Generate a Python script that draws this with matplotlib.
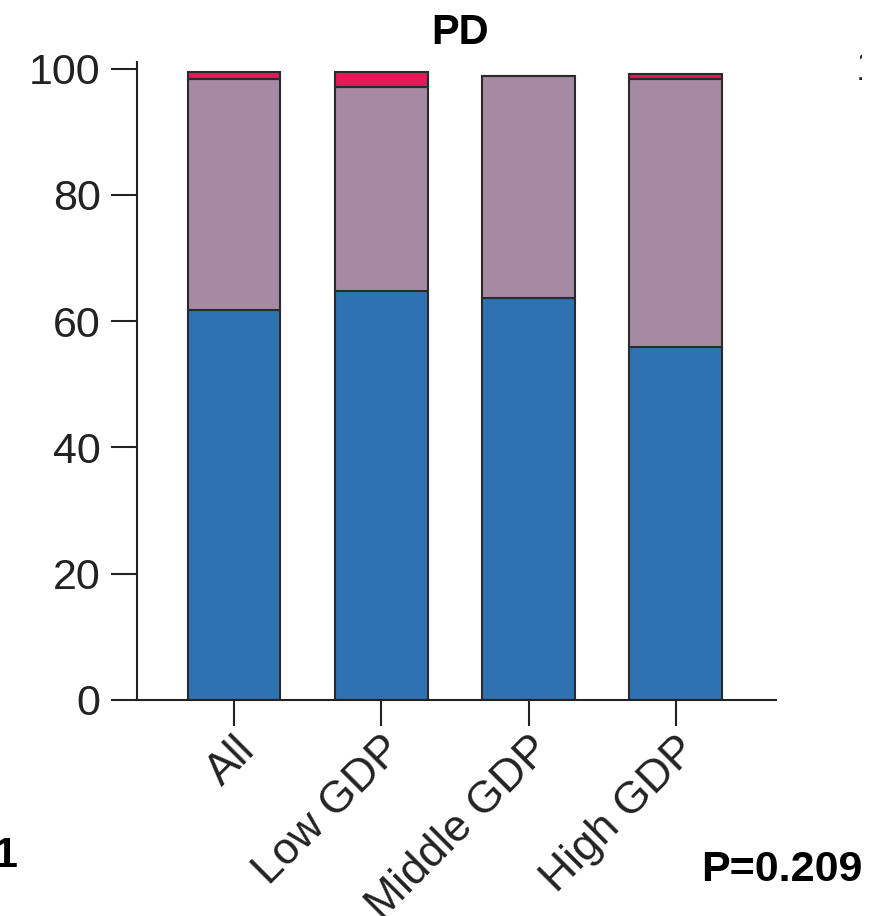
import matplotlib
matplotlib.use("Agg")
import matplotlib.pyplot as plt
from matplotlib.transforms import Bbox, TransformedBbox
import numpy as np

plt.rcParams['font.family'] = ['Liberation Sans', 'DejaVu Sans']

# data (stacked percentages)
groups = ["All", "Low GDP", "Middle GDP", "High GDP"]
blue_vals = [61.8, 64.8, 63.7, 55.9]
purple_vals = [36.5, 32.3, 35.2, 42.4]
red_vals = [1.1, 2.3, 0.0, 0.9]

colors = ["#2e72b3", "#a68aa3", "#e5195a"]

fig = plt.figure(figsize=(8.71, 9.16), dpi=100)
ax = fig.add_axes([0.157, 0.236, 0.734, 0.696])

x = np.arange(len(groups))
width = 0.63
bottom = np.zeros(len(groups))
for vals, c in zip([blue_vals, purple_vals, red_vals], colors):
    ax.bar(x, vals, width, bottom=bottom, color=c, edgecolor="#2b2b2b", linewidth=1.5)
    bottom += np.array(vals)

ax.set_xlim(-0.66, 3.68)
ax.set_ylim(0, 101)
ax.set_yticks([0, 20, 40, 60, 80, 100])
ax.set_xticks(x)
ax.set_xticklabels(groups, rotation=45, ha="right", va="top", rotation_mode="anchor")
ax.tick_params(axis="y", labelsize=31, length=19, width=1.5, colors="#222222", pad=7)
ax.tick_params(axis="x", labelsize=32, length=19, width=1.5, colors="#222222", pad=2)
for s in ["top", "right"]:
    ax.spines[s].set_visible(False)
for s in ["left", "bottom"]:
    ax.spines[s].set_linewidth(1.5)
    ax.spines[s].set_color("#222222")

fig.text(0.528, 0.964, "PD", ha="center", va="center", fontsize=30, fontweight="bold")
fig.text(0.99, 0.05, "P=0.209", ha="right", va="center", fontsize=31, fontweight="bold")
fig.text(-0.008, 0.066, "1", ha="left", va="center", fontsize=31, fontweight="bold")
# partial label from the neighbouring panel, clipped at the right edge
t = fig.text(0.982, 0.925, "1", ha="left", va="center", fontsize=31, color="#222222")
t.set_clip_box(TransformedBbox(Bbox([[0.95, 0.9], [0.99, 1.0]]), fig.transFigure))
t.set_clip_on(True)

plt.savefig("out.png", dpi=100)
